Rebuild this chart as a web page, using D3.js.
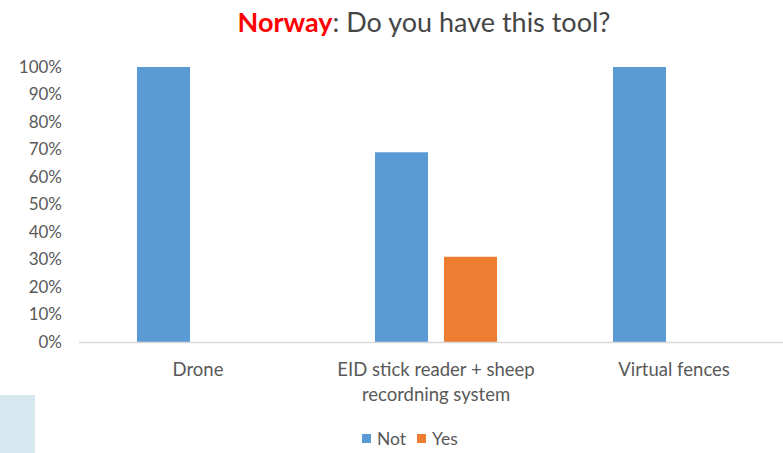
<!DOCTYPE html>
<html>
<head>
<meta charset="utf-8">
<script src="https://cdn.jsdelivr.net/npm/d3@7"></script>
<style>
  html, body { margin: 0; padding: 0; background: #fff; }
  svg { display: block; font-family: Lato, "Open Sans", sans-serif; }
</style>
</head>
<body>
<svg id="chart" width="783" height="453"></svg>
<script>
// Survey answers per tool (share of respondents)
const categories = ["Drone", "EID stick reader + sheep recordning system", "Virtual fences"];
const categoryLines = [["Drone"], ["EID stick reader + sheep", "recordning system"], ["Virtual fences"]];
const seriesNames = ["Not", "Yes"];
const notValues = [1.00, 0.69, 1.00];
const yesValues = [0.00, 0.31, 0.00];
const yTicks = [0, 0.1, 0.2, 0.3, 0.4, 0.5, 0.6, 0.7, 0.8, 0.9, 1.0];
const colors = ["#5b9bd5", "#ed7d31"];

const svg = d3.select("#chart");
const W = 783, H = 453;

// light panel in the lower-left corner
svg.append("rect").attr("x", 0).attr("y", 395).attr("width", 35).attr("height", 58)
  .attr("fill", "#d7e7f0");

const plot = { left: 79, right: 793, top: 67, bottom: 342 };

const x0 = d3.scaleBand().domain(categories).range([plot.left, plot.right]).paddingInner(0).paddingOuter(0);
const x1 = d3.scaleBand().domain(seriesNames).range([0, x0.bandwidth()]).paddingInner(0.232).paddingOuter(0.84);
const y = d3.scaleLinear().domain([0, 1]).range([plot.bottom, plot.top]);

// title
const title = svg.append("text").attr("x", 424).attr("y", 32).attr("text-anchor", "middle")
  .attr("font-size", 27).attr("fill", "#454545");
title.append("tspan").attr("fill", "#ff0000").attr("font-weight", "bold").text("Norway");
title.append("tspan").text(": Do you have this tool?");

// y axis labels
const yAxis = d3.axisLeft(y).tickValues(yTicks).tickFormat(d3.format(".0%")).tickSize(0).tickPadding(0);
const gy = svg.append("g").attr("transform", `translate(62,0)`).call(yAxis);
gy.select(".domain").remove();
gy.selectAll("text").attr("font-size", 17).attr("fill", "#595959").attr("font-family", "Lato, sans-serif");

// bars
const rows = categories.map((c, i) => ({ cat: c, vals: [notValues[i], yesValues[i]] }));
const groups = svg.append("g").selectAll("g").data(rows).join("g")
  .attr("transform", d => `translate(${x0(d.cat)},0)`);
groups.selectAll("rect").data(d => d.vals.map((v, j) => ({ key: seriesNames[j], v, j })))
  .join("rect")
  .attr("x", d => x1(d.key))
  .attr("width", x1.bandwidth())
  .attr("y", d => y(d.v))
  .attr("height", d => y(0) - y(d.v))
  .attr("fill", d => colors[d.j]);

// baseline
svg.append("line").attr("x1", plot.left).attr("x2", W).attr("y1", y(0) + 0.5).attr("y2", y(0) + 0.5)
  .attr("stroke", "#d9d9d9").attr("stroke-width", 1.5);

// category labels
categories.forEach((c, i) => {
  const cx = x0(c) + x0.bandwidth() / 2;
  const t = svg.append("text").attr("x", cx).attr("y", 376)
    .attr("text-anchor", "middle").attr("font-size", 18.5).attr("fill", "#595959");
  categoryLines[i].forEach((line, k) => {
    t.append("tspan").attr("x", cx).attr("dy", k === 0 ? 0 : 25).text(line);
  });
});

// legend
const legend = svg.append("g").attr("transform", "translate(362,434)");
const items = [{ name: seriesNames[0], x: 0 }, { name: seriesNames[1], x: 55 }];
items.forEach((it, i) => {
  legend.append("rect").attr("x", it.x).attr("y", 0).attr("width", 9).attr("height", 9).attr("fill", colors[i]);
  legend.append("text").attr("x", it.x + 15).attr("y", 11).attr("font-size", 17.5).attr("fill", "#595959").text(it.name);
});
</script>
</body>
</html>
